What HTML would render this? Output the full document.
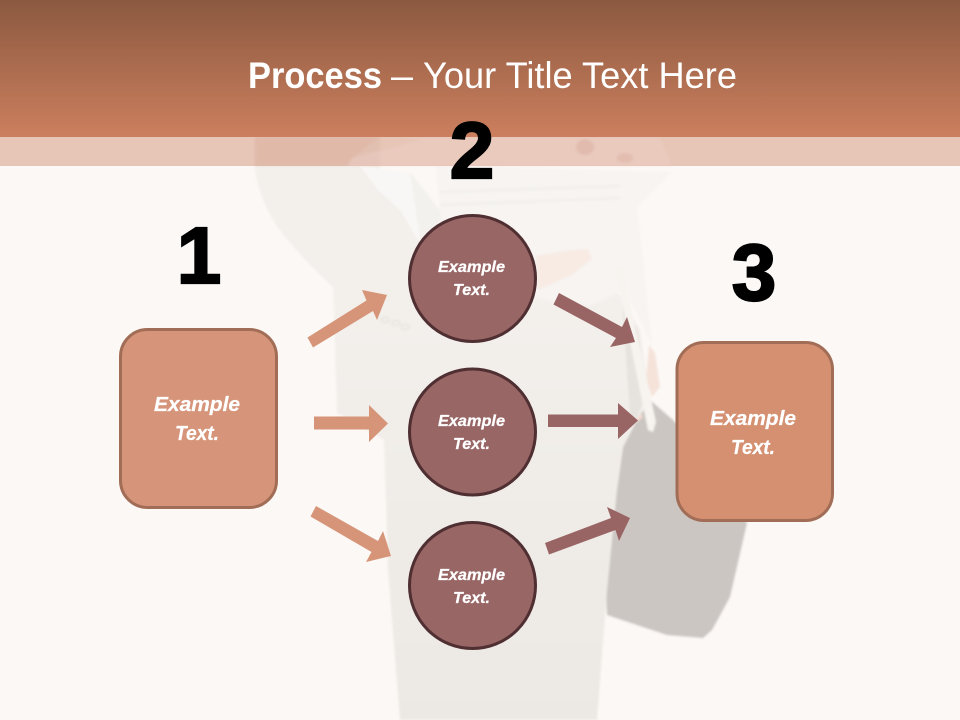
<!DOCTYPE html>
<html>
<head>
<meta charset="utf-8">
<style>
html,body{margin:0;padding:0;background:#fcf8f5;width:960px;height:720px;overflow:hidden}
svg{display:block}
text{font-family:"Liberation Sans",sans-serif}
.t{fill:#fff;stroke:#fff;stroke-width:.25;font-weight:bold;font-style:italic;text-anchor:start}
.n{fill:#000;stroke:#000;stroke-width:2.2;font-weight:bold;font-size:80px;text-anchor:middle}
</style>
</head>
<body>
<svg width="960" height="720" viewBox="0 0 960 720" xmlns="http://www.w3.org/2000/svg">
<defs>
<linearGradient id="h" x1="0" y1="0" x2="0" y2="1">
<stop offset="0" stop-color="#8b5940"/>
<stop offset="1" stop-color="#cc7f5e"/>
</linearGradient>
<linearGradient id="p" x1="0" y1="0" x2="0" y2="1">
<stop offset="0" stop-color="#f4f1ed"/>
<stop offset="1" stop-color="#ece8e3"/>
</linearGradient>
<filter id="b" x="-5%" y="-5%" width="110%" height="110%"><feGaussianBlur stdDeviation="1"/></filter>
</defs>
<rect width="960" height="720" fill="#fcf8f5"/>

<!-- silhouette -->
<g filter="url(#b)">
<path d="M650 400L673 420L700 450L747 523L730 597L712 630L703 638L667 635L607 615L605 570L623 447L637 420Z" fill="#cbc6c2"/>
<path d="M649 345L655 353L660 387L652 397L646 380Z" fill="#f5e3da"/>
<path d="M630 400L643 417L637 422L626 412Z" fill="#f4dcd1"/>
<path d="M620 295L640 330L650 400L636 420L623 447L617 490L607 590L597 720L400 720L388 570L384 440L337 413L333 285L400 270L560 270Z" fill="url(#p)"/>
<path d="M622 300L638 330L646 395L636 420L630 415Z" fill="#e6e2de"/>
<path d="M255 137L255 170C258 190 268 215 280 230C295 250 315 270 333 287L350 330L430 340L430 250L405 215L380 175L380 137Z" fill="#f3efeb"/>
<path d="M360 166L410 172L436 235L418 240L400 210L378 190Z" fill="#f9f7f5"/>
<path d="M410 172L440 210L445 270L420 238Z" fill="#f3f1ee"/>
<path d="M436 166L672 172L637 207L640 230L652 345L625 290L590 305L545 300L445 270Z" fill="#f7f4f2"/>
<path d="M440 192L620 186M440 205L620 198" stroke="#f0edea" stroke-width="2" fill="none"/>
<path d="M615 268L622 267L656 422L653 432L648 430Z" fill="#f7f4f0"/>
<path d="M536 256L570 250L588 249L592 259L572 275L538 290Z" fill="#f8ebe4"/>
<g fill="none" stroke="#e4e0dc" stroke-width="1.2">
<ellipse cx="385" cy="320" rx="4" ry="2.5"/>
<ellipse cx="396" cy="323" rx="4" ry="2.5"/>
<ellipse cx="405" cy="327" rx="4" ry="2.5"/>
</g>
</g>

<!-- band -->
<rect x="0" y="137" width="960" height="29" fill="#c87a5b" fill-opacity="0.4"/>
<g filter="url(#b)">
<path d="M255 137L380 137L350 160L348 166L255 166Z" fill="#d9a898" fill-opacity="0.3"/>
<path d="M348 166L352 158L420 140L400 137L660 137L672 166Z" fill="#eccfc5" fill-opacity="0.45"/>
<ellipse cx="585" cy="147" rx="9" ry="8" fill="#d5a392" fill-opacity="0.35"/>
<ellipse cx="625" cy="158" rx="8" ry="5" fill="#d5a392" fill-opacity="0.3"/>
</g>
<rect width="960" height="137" fill="url(#h)"/>

<text x="248" y="88" font-size="37" font-weight="bold" fill="#fff" textLength="134" lengthAdjust="spacingAndGlyphs">Process</text>
<text x="391" y="88" font-size="37" fill="#fff" textLength="22" lengthAdjust="spacingAndGlyphs">–</text>
<text x="423" y="88" font-size="37" fill="#fff" textLength="314" lengthAdjust="spacingAndGlyphs">Your Title Text Here</text>

<text class="n" x="199" y="283">1</text>
<text class="n" x="472" y="178">2</text>
<text class="n" x="754" y="300">3</text>

<!-- left arrows -->
<g fill="#d69578">
<polygon points="307.5,337.5 313,347.5 373,311 377,320 387,295 362,290 366.5,300.5"/>
<polygon points="314,416.5 369,416.5 369,405 388,423.5 369,442 369,429.5 314,429.5"/>
<polygon points="316,506 310.5,516.5 371.5,552 366,562 391,556 383,531 378,541"/>
</g>
<!-- right arrows -->
<g fill="#996464">
<polygon points="559,293 553.5,304.5 616,338 610,347 635,342 627,317 622,327"/>
<polygon points="548,414.5 618,414.5 618,403 638,420.5 618,439 618,427 548,427"/>
<polygon points="545,543 549,554.5 615.5,530 619,541 630,518 607,507 611,518"/>
</g>

<!-- boxes -->
<rect x="120.5" y="329.5" width="156" height="178" rx="27" ry="27" fill="#d6957a" stroke="#a26d56" stroke-width="3"/>
<rect x="677" y="342.5" width="155.5" height="178" rx="27" ry="27" fill="#d59072" stroke="#a26d56" stroke-width="3"/>

<!-- circles -->
<circle cx="472.5" cy="278.5" r="63" fill="#996666" stroke="#4f2f31" stroke-width="3"/>
<circle cx="472.5" cy="432" r="63" fill="#996666" stroke="#4f2f31" stroke-width="3"/>
<circle cx="472.5" cy="585.5" r="63" fill="#996666" stroke="#4f2f31" stroke-width="3"/>

<text class="t" x="154" y="411" font-size="20" textLength="86" lengthAdjust="spacingAndGlyphs">Example</text>
<text class="t" x="175" y="440" font-size="20" textLength="44" lengthAdjust="spacingAndGlyphs">Text.</text>
<text class="t" x="710" y="425" font-size="20" textLength="86" lengthAdjust="spacingAndGlyphs">Example</text>
<text class="t" x="731" y="454" font-size="20" textLength="44" lengthAdjust="spacingAndGlyphs">Text.</text>

<text class="t" x="438" y="272" font-size="16" textLength="67" lengthAdjust="spacingAndGlyphs">Example</text>
<text class="t" x="453" y="295" font-size="16" textLength="37" lengthAdjust="spacingAndGlyphs">Text.</text>
<text class="t" x="438" y="426" font-size="16" textLength="67" lengthAdjust="spacingAndGlyphs">Example</text>
<text class="t" x="453" y="449" font-size="16" textLength="37" lengthAdjust="spacingAndGlyphs">Text.</text>
<text class="t" x="438" y="580" font-size="16" textLength="67" lengthAdjust="spacingAndGlyphs">Example</text>
<text class="t" x="453" y="603" font-size="16" textLength="37" lengthAdjust="spacingAndGlyphs">Text.</text>
</svg>
</body>
</html>
